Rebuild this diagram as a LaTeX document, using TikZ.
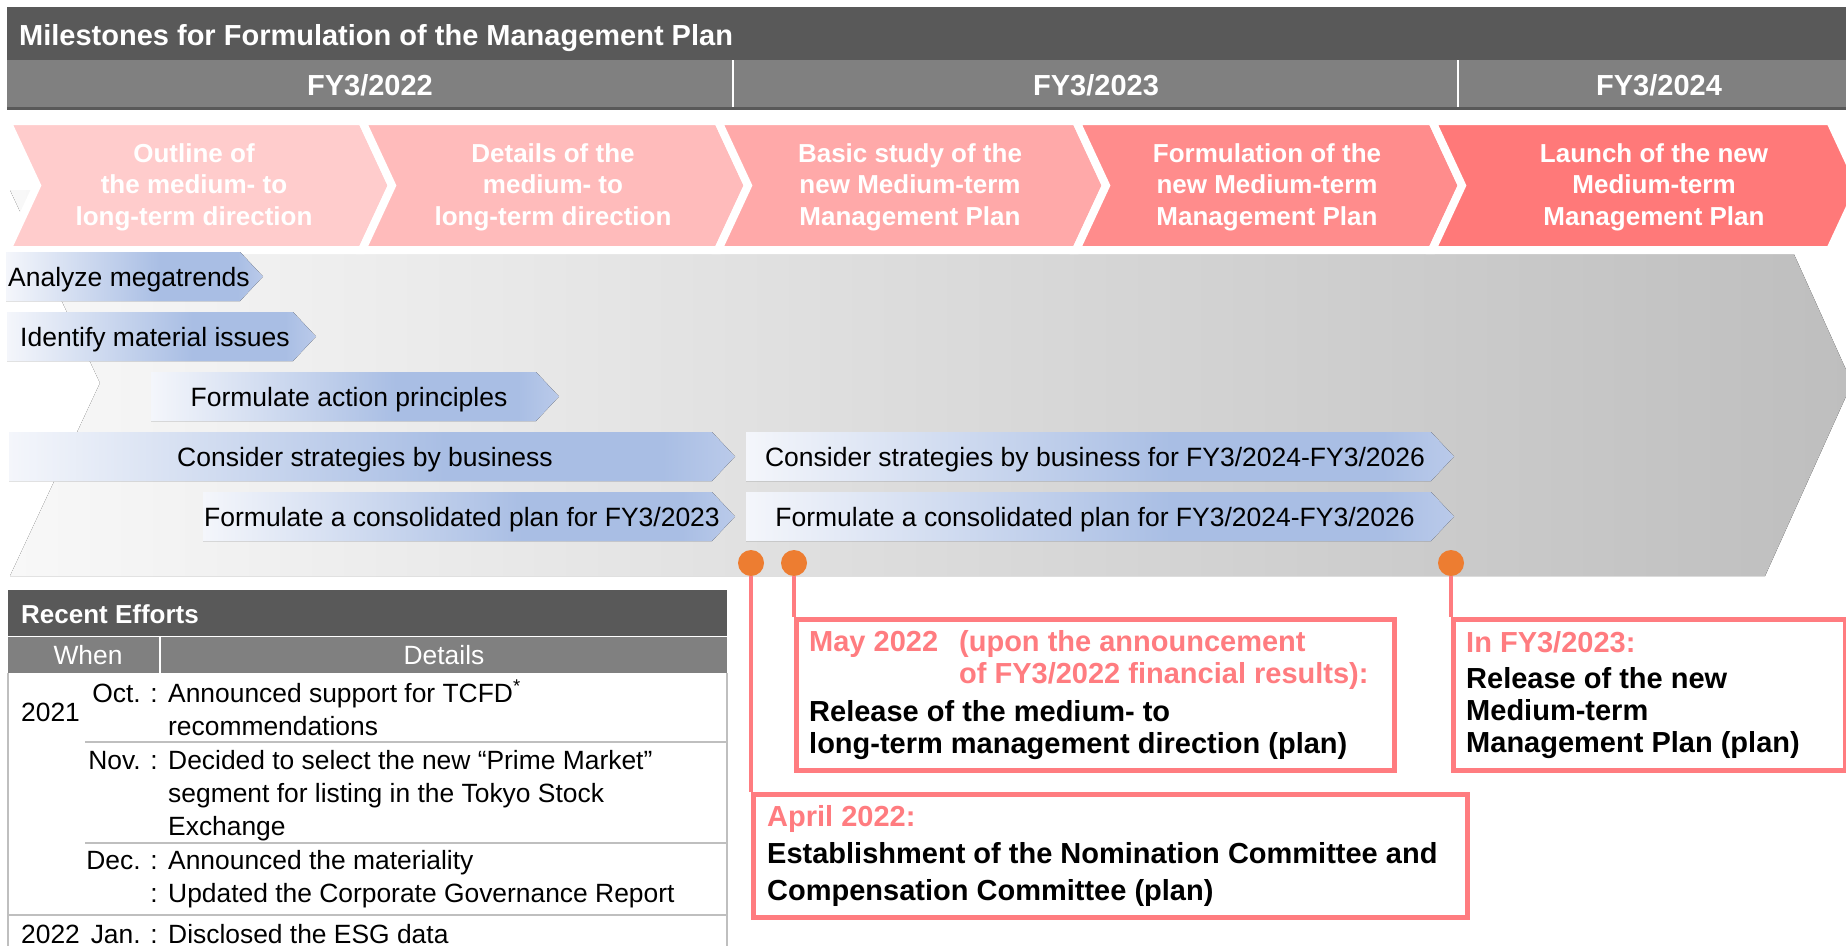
\documentclass[tikz,border=0pt]{standalone}
\usepackage{fontspec}
\setmainfont{Liberation Sans}
\usetikzlibrary{positioning}

\definecolor{bardark}{HTML}{595959}
\definecolor{barmid}{HTML}{808080}
\definecolor{stepA}{HTML}{FFCCCC}
\definecolor{stepB}{HTML}{FFBBBB}
\definecolor{stepC}{HTML}{FFA9A9}
\definecolor{stepD}{HTML}{FF8C8C}
\definecolor{stepE}{HTML}{FF7979}
\definecolor{salmon}{HTML}{FF7C80}
\definecolor{dotorange}{HTML}{ED7D31}
\definecolor{bgleft}{HTML}{F8F8F8}
\definecolor{bgright}{HTML}{BEBEBE}
\definecolor{tasklight}{HTML}{F4F6FB}
\definecolor{taskblue}{HTML}{A9BEE4}
\definecolor{tasktip}{HTML}{BACAEA}
\definecolor{rule}{HTML}{BFBFBF}

% light on the left, blue towards the point
\pgfdeclarehorizontalshading{taskfade}{100bp}{color(0bp)=(tasklight); color(25bp)=(tasklight);
  color(55bp)=(taskblue); color(70bp)=(taskblue); color(75bp)=(tasktip); color(100bp)=(tasktip)}

\begin{document}
\begin{tikzpicture}[x=1pt,y=-1pt,
  heading/.style={font=\fontsize{29}{35}\selectfont\bfseries, text=white, inner sep=0pt, text height=21pt, text depth=0pt},
  tablehead/.style={font=\fontsize{26}{31}\selectfont\bfseries, text=white, inner sep=0pt, text height=19pt, text depth=0pt},
  steptext/.style={font=\fontsize{26}{31.5}\selectfont\bfseries, text=white, align=center, inner sep=0pt},
  task/.style={font=\fontsize{26.5}{32}\selectfont, inner sep=0pt, text height=19pt, text depth=0pt},
  cell/.style={font=\fontsize{26.4}{33}\selectfont, inner sep=0pt},
  colhead/.style={cell, text=white, text height=19pt, text depth=0pt},
  milestone/.style={circle, fill=dotorange, minimum size=26pt, inner sep=0pt},
  callout/.style={draw=salmon, line width=4.5pt, fill=white, inner sep=0pt, anchor=north west},
  note/.style={font=\fontsize{29}{32}\selectfont\bfseries, align=left, inner sep=0pt, anchor=west},
  link/.style={draw=salmon, line width=4.5pt}]
\clip (0,0) rectangle (1846,946);

% title and fiscal years
\fill[bardark] (7,7) rectangle (1846,60);
\node[heading, anchor=west] (title) at (19,35) {Milestones for Formulation of the Management Plan};
\fill[barmid] (7,60) rectangle (1846,107);
\fill[bardark] (7,107) rectangle (1846,110);
\draw[white, line width=2pt] (733,60) -- (733,107);
\draw[white, line width=2pt] (1458,60) -- (1458,107);
\node[heading] (fy22) at (370,85) {FY3/2022};
\node[heading] (fy23) at (1096,85) {FY3/2023};
\node[heading] (fy24) at (1659,85) {FY3/2024};

% big grey arrow behind the tasks
\fill[left color=bgleft, right color=bgright] (10,190) -- (1765,190) -- (1852,383) -- (1765,576)
  -- (10,576) -- (100,383) -- cycle;

% phases
\foreach \xa/\xb/\c in {7/362/stepA, 362/718/stepB, 718/1076/stepC, 1076/1432/stepD, 1432/1830/stepE}
  \filldraw[fill=\c, draw=white, line width=8pt] (\xa,121) -- (\xb,121) -- ({\xb+30},185.5)
    -- (\xb,250) -- (\xa,250) -- ({\xa+30},185.5) -- cycle;
\foreach \x/\t [count=\i] in {194/{Outline of\\the medium- to\\long-term direction},
    553/{Details of the\\medium- to\\long-term direction},
    910/{Basic study of the\\new Medium-term\\Management Plan},
    1267/{Formulation of the\\new Medium-term\\Management Plan},
    1654/{Launch of the new\\Medium-term\\Management Plan}}
  \node[steptext] (phase\i) at (\x,187) {\t};

% tasks
\foreach \xa/\xb/\yt in {6/240/252, 7/293/312, 151/536/372, 9/712/432, 203/712/492, 746/1431/432, 746/1431/492}
  \fill[shading=taskfade] (\xa,\yt) -- (\xb,\yt) -- ({\xb+23},{\yt+24.5}) -- (\xb,{\yt+49})
    -- (\xa,{\yt+49}) -- cycle;
\node[task, anchor=west] (megatrends) at (8,276.5) {Analyze megatrends};
\node[task, anchor=west] (issues) at (20,336.5) {Identify material issues};
\node[task] (principles) at (349,396.5) {Formulate action principles};
\node[task] (strategies) at (365,456.5) {Consider strategies by business};
\node[task] (plan23) at (462,516.5) {Formulate a consolidated plan for FY3/2023};
\node[task] (strategies26) at (1095,456.5) {Consider strategies by business for FY3/2024-FY3/2026};
\node[task] (plan26) at (1095,516.5) {Formulate a consolidated plan for FY3/2024-FY3/2026};

% milestones
\node[milestone] (dotapr) at (751,563) {};
\node[milestone] (dotmay) at (794,563) {};
\node[milestone] (dotfy) at (1451,563) {};
\node[callout, minimum width=714pt, minimum height=123pt] (aprbox) at (751,792) {};
\node[callout, minimum width=598pt, minimum height=151pt] (maybox) at (794,617) {};
\node[callout, minimum width=392pt, minimum height=151pt] (fybox) at (1451,617) {};
\draw[link] (dotapr.south) -- (aprbox.north west);
\draw[link] (dotmay.south) -- (maybox.north west);
\draw[link] (dotfy.south) -- (fybox.north west);
\node[note, font=\fontsize{29}{37}\selectfont\bfseries] (aprtext) at ([xshift=16pt]aprbox.west)
  {\textcolor{salmon}{April 2022:}\\Establishment of the Nomination Committee and\\Compensation Committee (plan)};
\node[note] (maytext) at ([xshift=15pt]maybox.west)
  {\textcolor{salmon}{\makebox[150pt][l]{May 2022}(upon the announcement}\\
   \textcolor{salmon}{\hspace*{150pt}of FY3/2022 financial results):}\\[6pt]
   Release of the medium- to\\long-term management direction (plan)};
\node[note] (fytext) at ([xshift=15pt]fybox.west)
  {\textcolor{salmon}{In FY3/2023:}\\[4pt]Release of the new\\Medium-term\\Management Plan (plan)};

% recent efforts table
\fill[bardark] (8,590) rectangle (727,636);
\node[tablehead, anchor=west] (efforts) at (21,614) {Recent Efforts};
\fill[barmid] (8,637) rectangle (727,673);
\draw[white, line width=2pt] (160,637) -- (160,673);
\node[colhead] (when) at (88,655) {When};
\node[colhead] (details) at (444,655) {Details};
\draw[rule, line width=1.5pt] (8,673) -- (8,946);
\draw[rule, line width=1.5pt] (727,673) -- (727,946);
\draw[rule, line width=1.5pt] (85,742) -- (727,742);
\draw[rule, line width=1.5pt] (85,843) -- (727,843);
\draw[rule, line width=1.5pt] (8,915) -- (727,915);
\node[cell, anchor=base west] (y2021) at (21,721) {2021};
\node[cell, anchor=base west] (y2022) at (21,943) {2022};
\foreach \y/\m/\t in {702/Oct. :/Announced support for TCFD\textsuperscript{*},
    735//recommendations,
    769/Nov. :/Decided to select the new “Prime Market”,
    802//segment for listing in the Tokyo Stock,
    835//Exchange,
    869/Dec. :/Announced the materiality,
    902/:/Updated the Corporate Governance Report,
    943/Jan. :/Disclosed the ESG data}
{
  \node[cell, anchor=base east] (when\y) at (158,\y) {\m};
  \node[cell, anchor=base west] (what\y) at (168,\y) {\t};
}
\end{tikzpicture}
\end{document}
